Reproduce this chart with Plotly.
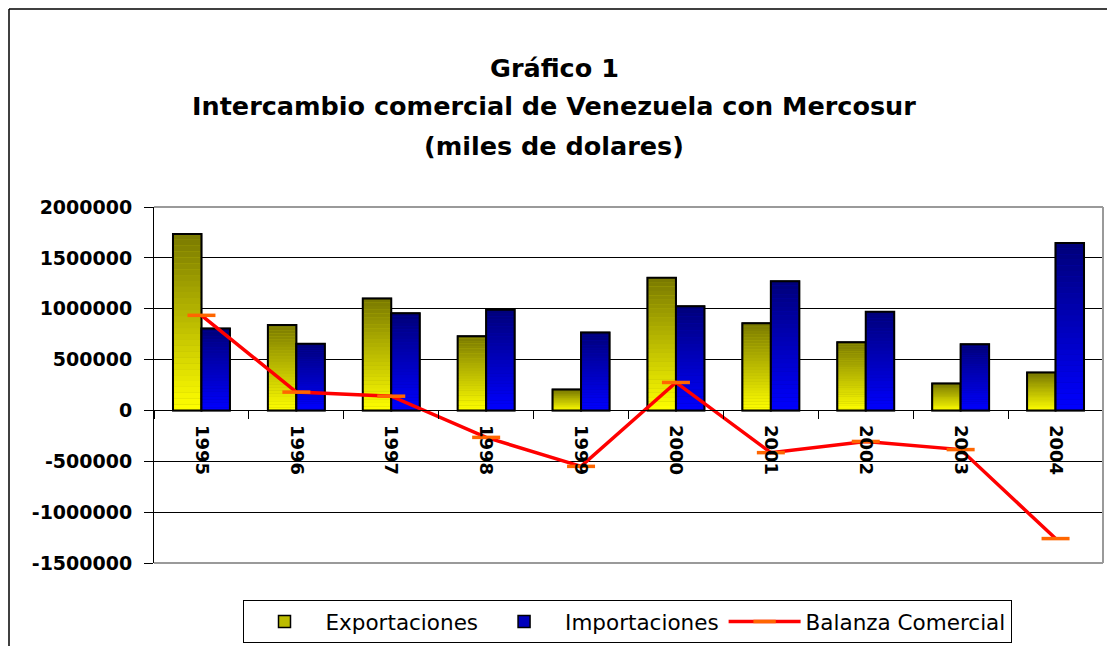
import plotly.graph_objects as go

# ---------------- data ----------------
YEARS = ["1995", "1996", "1997", "1998", "1999", "2000", "2001", "2002", "2003", "2004"]
EXPORTACIONES = [1735000, 840000, 1100000, 730000, 205000, 1305000, 858000, 670000, 265000, 372000]
IMPORTACIONES = [805000, 655000, 955000, 990000, 765000, 1025000, 1270000, 970000, 650000, 1645000]
BALANZA = [935000, 180000, 140000, -265000, -550000, 275000, -415000, -305000, -385000, -1260000]
Y_TICK_VALUES = [-1500000, -1000000, -500000, 0, 500000, 1000000, 1500000, 2000000]
Y_TICK_LABELS = ["-1500000", "-1000000", "-500000", "0", "500000", "1000000", "1500000", "2000000"]
TITLE_LINES = ["Gráfico 1", "Intercambio comercial de Venezuela con Mercosur", "(miles de dolares)"]
SERIES_NAMES = ["Exportaciones", "Importaciones", "Balanza Comercial"]

# ---------------- layout geometry ----------------
# the page body has an 8px margin on every side; keep the figure inside the window
OFF = 8
W, H = 1115 - 2 * OFF, 654 - 2 * OFF
PLOT_LEFT, PLOT_RIGHT, PLOT_TOP, PLOT_BOTTOM = 154, 1103, 207, 563  # page pixels
L = PLOT_LEFT - OFF
R = W - (PLOT_RIGHT - OFF)
T = PLOT_TOP - OFF
B = H - (PLOT_BOTTOM - OFF)
PW, PH = W - L - R, H - T - B


def px_x(x):
    return (x - OFF - L) / PW


def px_y(y):
    return (H - B - (y - OFF)) / PH


FONT = "DejaVu Sans"
N_SEG = 30
BAR_W = 0.3


def mix(c0, c1, t):
    return "rgb(%d,%d,%d)" % tuple(round(a + (b - a) * t) for a, b in zip(c0, c1))


fig = go.Figure()


def gradient_bars(values, offset, bottom, top, name, rank):
    # legend-carrying base bar (mid colour, black outline)
    fig.add_trace(go.Bar(
        x=YEARS, y=values, name=name, offset=offset, width=BAR_W,
        marker=dict(color=mix(bottom, top, 0.5), line=dict(color="black", width=1.5)),
        legendrank=rank, showlegend=True))
    # vertical gradient made of thin slices of each bar
    for k in range(N_SEG):
        t = (k + 0.5) / N_SEG
        fig.add_trace(go.Bar(
            x=YEARS, y=[v / N_SEG for v in values], base=[v * k / N_SEG for v in values],
            offset=offset, width=BAR_W, showlegend=False, hoverinfo="skip",
            marker=dict(color=mix(bottom, top, t), line=dict(width=0))))
    # outline on top
    fig.add_trace(go.Bar(
        x=YEARS, y=values, offset=offset, width=BAR_W, showlegend=False, hoverinfo="skip",
        marker=dict(color="rgba(0,0,0,0)", line=dict(color="black", width=2))))


gradient_bars(EXPORTACIONES, -BAR_W, (255, 255, 0), (120, 120, 0), SERIES_NAMES[0], 1)
gradient_bars(IMPORTACIONES, 0.0, (0, 0, 255), (0, 0, 120), SERIES_NAMES[1], 2)

fig.add_trace(go.Scatter(
    x=YEARS, y=BALANZA, name=SERIES_NAMES[2], mode="lines+markers",
    line=dict(color="#FF0000", width=3.5),
    marker=dict(symbol="line-ew", size=20, color="#FF6600",
                line=dict(color="#FF6600", width=3.5)),
    legendrank=3))

# ---------------- title ----------------
title_y = [68, 106, 146]
annotations = []
for txt, yy in zip(TITLE_LINES, title_y):
    annotations.append(dict(
        text=txt, xref="paper", yref="paper", x=px_x(554), y=px_y(yy),
        xanchor="center", yanchor="middle", showarrow=False,
        font=dict(family=FONT, size=25.5, color="black", weight="bold")))

# ---------------- frames ----------------
shapes = [
    # outer chart border (left and top edges visible in the window)
    dict(type="line", xref="paper", yref="paper", x0=px_x(9), x1=px_x(1200),
         y0=px_y(9), y1=px_y(9), line=dict(color="black", width=1.5), layer="below"),
    dict(type="line", xref="paper", yref="paper", x0=px_x(9), x1=px_x(9),
         y0=px_y(9), y1=px_y(700), line=dict(color="black", width=1.5), layer="below"),
    # plot area border (top, right, bottom in grey)
    dict(type="line", xref="paper", yref="paper", x0=0, x1=1, y0=1, y1=1,
         line=dict(color="#9a9a9a", width=2), layer="above"),
    dict(type="line", xref="paper", yref="paper", x0=1, x1=1, y0=0, y1=1,
         line=dict(color="#9a9a9a", width=2), layer="above"),
    dict(type="line", xref="paper", yref="paper", x0=0, x1=1, y0=0, y1=0,
         line=dict(color="#9a9a9a", width=2), layer="above"),
]

fig.update_layout(
    width=W, height=H, autosize=False,
    margin=dict(l=L, r=R, t=T, b=B, pad=0, autoexpand=False),
    paper_bgcolor="white", plot_bgcolor="white",
    barmode="overlay",
    showlegend=True,
    legend=dict(orientation="h", x=px_x(627), xanchor="center", y=px_y(600), yanchor="top",
                bordercolor="black", borderwidth=1, bgcolor="white",
                font=dict(family=FONT, size=21.5, color="black"),
                itemwidth=72, traceorder="normal"),
    annotations=annotations,
    shapes=shapes,
    xaxis=dict(type="category", range=[-0.5, len(YEARS) - 0.5],
               anchor="free", position=1.5 / 3.5,
               showgrid=False, showline=True, linecolor="black", linewidth=1,
               ticks="outside", ticklen=8, tickcolor="black", tickson="boundaries",
               tickangle=90, ticklabelstandoff=10,
               tickfont=dict(family=FONT, size=18, color="black", weight="bold"),
               fixedrange=True),
    yaxis=dict(range=[-1500000, 2000000], tickvals=Y_TICK_VALUES, ticktext=Y_TICK_LABELS,
               showgrid=True, gridcolor="black", gridwidth=1,
               zeroline=True, zerolinecolor="black", zerolinewidth=1,
               showline=True, linecolor="black", linewidth=1,
               ticks="outside", ticklen=9, tickcolor="black", ticklabelstandoff=8,
               tickfont=dict(family=FONT, size=19, color="black", weight="bold"),
               fixedrange=True),
)

fig.write_html("out.html")
